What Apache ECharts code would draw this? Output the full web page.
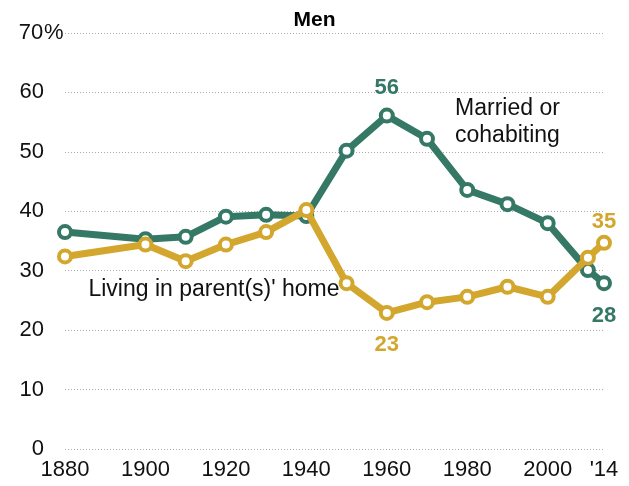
<!DOCTYPE html>
<html>
<head>
<meta charset="utf-8">
<script src="https://cdn.jsdelivr.net/npm/echarts@6/dist/echarts.min.js"></script>
<style>
  html, body { margin: 0; padding: 0; background: #fff; }
  #chart { width: 629px; height: 486px; }
</style>
</head>
<body>
<div id="chart"></div>
<script>
// Years of the census points
const years = [1880, 1900, 1910, 1920, 1930, 1940, 1950, 1960, 1970, 1980, 1990, 2000, 2010, 2014];
// Share of men 18-34 married or cohabiting (%)
const married = [36.5, 35.3, 35.7, 39.1, 39.4, 39.2, 50.2, 56.1, 52.2, 43.6, 41.2, 38.0, 30.1, 27.9];
// Share living in parent(s)' home (%)
const parents = [32.4, 34.4, 31.6, 34.4, 36.5, 40.2, 27.9, 22.9, 24.7, 25.6, 27.3, 25.6, 32.2, 34.7];
// x axis tick labels
const xTicks = [1880, 1900, 1920, 1940, 1960, 1980, 2000, 2014];

const GREEN = '#367866';
const YELLOW = '#d3a62e';
const FONT = 'Liberation Sans, Arial, sans-serif';

const chart = echarts.init(document.getElementById('chart'));

// series data, with bold value labels on chosen points
function seriesData(vals, special) {
  return years.map((y, i) => {
    const s = special[y];
    if (!s) return [y, vals[i]];
    return {
      value: [y, vals[i]],
      label: {
        show: true,
        position: s[0],
        distance: s[1],
        formatter: String(Math.round(vals[i])),
        color: s[2],
        fontFamily: FONT,
        fontWeight: 'bold',
        fontSize: 22,
        lineHeight: 22
      }
    };
  });
}

function textMark(coord, text, pos, extra) {
  return {
    coord: coord,
    symbol: 'rect',
    symbolSize: 1,
    itemStyle: { color: 'rgba(0,0,0,0)' },
    label: Object.assign({
      show: true,
      position: pos,
      distance: 0,
      formatter: text,
      color: '#111',
      fontFamily: FONT,
      fontSize: 23
    }, extra || {})
  };
}

const option = {
  animation: false,
  title: {
    text: 'Men',
    left: 'center',
    top: 5,
    textStyle: { fontFamily: FONT, fontWeight: 'bold', fontSize: 21, color: '#000' }
  },
  grid: { left: 65, right: 25, top: 33, bottom: 37 },
  xAxis: {
    type: 'value',
    min: 1880,
    max: 2014,
    axisLine: { show: false },
    axisTick: { show: false },
    splitLine: { show: false },
    axisLabel: {
      customValues: xTicks,
      margin: 10,
      color: '#111',
      fontFamily: FONT,
      fontSize: 22,
      formatter: v => v === 2014 ? "'14" : String(v)
    }
  },
  yAxis: {
    type: 'value',
    min: 0,
    max: 70,
    interval: 10,
    axisLine: { show: false },
    axisTick: { show: false },
    splitLine: { lineStyle: { color: '#aaa', type: [1, 2], width: 1 } },
    axisLabel: {
      margin: 47,
      align: 'left',
      formatter: v => v === 70 ? '{n|70}{p|%}' : '{n|' + v + '}',
      rich: {
        n: { width: 26, align: 'right', fontFamily: FONT, fontSize: 22, color: '#111' },
        p: { fontFamily: FONT, fontSize: 22, color: '#111' }
      }
    }
  },
  series: [
    {
      name: 'Married or cohabiting',
      type: 'line',
      data: seriesData(married, { 1960: ['top', 9, GREEN], 2014: ['bottom', 14, GREEN] }),
      lineStyle: { color: GREEN, width: 7 },
      itemStyle: { color: '#fff', borderColor: GREEN, borderWidth: 4 },
      symbol: 'circle',
      symbolSize: 12,
      z: 2,
      markPoint: {
        data: [textMark([1990, 55], 'Married or\ncohabiting', 'inside', { lineHeight: 27, align: 'center' })]
      }
    },
    {
      name: "Living in parent(s)' home",
      type: 'line',
      data: seriesData(parents, { 1960: ['bottom', 13, YELLOW], 2014: ['top', 2, YELLOW] }),
      lineStyle: { color: YELLOW, width: 7 },
      itemStyle: { color: '#fff', borderColor: YELLOW, borderWidth: 4 },
      symbol: 'circle',
      symbolSize: 12,
      z: 3,
      markPoint: {
        data: [textMark([1885.7, 26.8], "Living in parent(s)' home", 'right')]
      }
    }
  ]
};

chart.setOption(option);
</script>
</body>
</html>
